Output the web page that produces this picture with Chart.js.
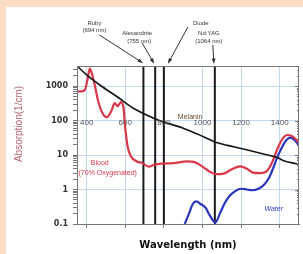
<!DOCTYPE html>
<html>
<head>
<meta charset="UTF-8">
<title>Absorption spectra</title>
<script src="https://cdn.jsdelivr.net/npm/chart.js"></script>
<style>
  html, body { margin: 0; padding: 0; background: #fcdcc3; }
  #wrap { position: absolute; left: 6px; top: 7px; width: 297px; height: 247px; background: #fff; }
</style>
</head>
<body>
<div id="wrap"><canvas id="absChart" width="297" height="247"></canvas></div>
<script>
// wavelengths (nm) and absorption (1/cm)
var bloodNm  = [350, 370, 390, 405, 416, 425, 440, 458, 480, 505, 530, 545, 560, 577, 590, 600, 612, 630, 660, 690, 720, 750, 790, 850, 920, 960, 1000, 1040, 1070, 1110, 1150, 1195, 1230, 1260, 1300, 1335, 1360, 1390, 1415, 1440, 1460, 1480, 1500];
var bloodAbs = [700, 700, 760, 1600, 3200, 2500, 1200, 400, 170, 125, 200, 320, 260, 340, 250, 60, 18, 9, 6.5, 5.8, 4.6, 5.2, 5.6, 5.8, 6.5, 6.2, 4.6, 3.2, 2.8, 2.9, 3.8, 4.7, 4.0, 3.1, 3.0, 3.5, 6, 16, 30, 38, 36, 30, 22];

var melNm  = [350, 400, 470, 560, 640, 745, 800, 900, 1000, 1064, 1130, 1200, 1270, 1337, 1390, 1421, 1460, 1500];
var melAbs = [3800, 2100, 1050, 480, 230, 118, 90, 60, 35, 24, 19, 15.5, 12.5, 10, 8.3, 6.8, 6, 5.4];

var waterNm  = [908, 930, 950, 968, 990, 1015, 1040, 1067, 1090, 1115, 1140, 1170, 1200, 1230, 1260, 1290, 1320, 1345, 1365, 1385, 1405, 1430, 1455, 1475, 1500];
var waterAbs = [0.1, 0.2, 0.38, 0.45, 0.38, 0.3, 0.17, 0.11, 0.2, 0.4, 0.65, 0.9, 1.05, 1.0, 0.95, 1.05, 1.4, 2.2, 4, 8, 14, 25, 32, 28, 19];

var laserNm   = [694, 755, 800, 1064];
var laserName = ['Ruby', 'Alexandrite', 'Diode', 'Nd:YAG'];
var laserSub  = ['(694 nm)', '(755 nm)', '', '(1064 nm)'];

var xTicks = [400, 600, 800, 1000, 1200, 1400];
var yMajor = [0.1, 1, 10, 100, 1000];
var yMin = 0.1, yMax = 3800;

function pts(xs, ys) {
    return xs.map(function (x, i) { return {x: x, y: ys[i]}; });
}
function isDecade(v) {
    var l = Math.log10(v);
    return Math.abs(l - Math.round(l)) < 1e-6;
}

var datasets = [
    {data: pts(melNm, melAbs), borderColor: '#151515', borderWidth: 1.6},
    {data: pts(bloodNm, bloodAbs), borderColor: '#d8384a', borderWidth: 2.2},
    {data: pts(waterNm, waterAbs), borderColor: '#2a35c0', borderWidth: 2.2}
];
datasets.forEach(function (d) { d.cubicInterpolationMode = 'monotone'; });
laserNm.forEach(function (nm) {
    datasets.push({data: [{x: nm, y: yMin}, {x: nm, y: yMax}], borderColor: '#1a1a1a', borderWidth: 2});
});

// label positions relative to each laser line / chart top (px)
var laserLbl = [
    {dx: -49, dy: -43, sdx: -49, sdy: -36, ax: -44, ay: -31, bx: -2, by: -4},
    {dx: -18, dy: -33, sdx: -16, sdy: -25, ax: -13, ay: -23, bx: -2, by: -4},
    {dx: 37,  dy: -43, sdx: 37,  sdy: -36, ax: 24,  ay: -39, bx: 5,  by: -4},
    {dx: -6,  dy: -33, sdx: -6,  sdy: -25, ax: -2,  ay: -21, bx: -1, by: -4}
];

var decor = {
    id: 'decor',
    afterDatasetsDraw: function (chart) {
        var ctx = chart.ctx, xs = chart.scales.x, ys = chart.scales.y, a = chart.chartArea;
        ctx.save();
        // frame
        ctx.strokeStyle = '#777';
        ctx.lineWidth = 1;
        ctx.strokeRect(a.left + 0.5, a.top + 0.5, a.right - a.left - 1, a.bottom - a.top);
        // right edge minor ticks
        ys.ticks.forEach(function (t) {
            var y = Math.round(ys.getPixelForValue(t.value)) + 0.5;
            ctx.beginPath();
            ctx.moveTo(a.right - (isDecade(t.value) ? 4 : 2), y);
            ctx.lineTo(a.right, y);
            ctx.stroke();
        });
        // x tick labels inside plot
        ctx.fillStyle = '#555';
        ctx.font = '8px "Liberation Sans", Arial, sans-serif';
        ctx.textAlign = 'center';
        ctx.textBaseline = 'middle';
        xTicks.forEach(function (v) {
            ctx.fillText(String(v), xs.getPixelForValue(v), ys.getPixelForValue(85));
        });
        // curve names
        ctx.font = '7px "Liberation Sans", Arial, sans-serif';
        ctx.fillStyle = '#6a4a30';
        ctx.fillText('Melanin', xs.getPixelForValue(936), ys.getPixelForValue(126));
        ctx.fillStyle = '#d8384a';
        ctx.fillText('Blood', xs.getPixelForValue(468), ys.getPixelForValue(5.9));
        ctx.fillText('(70% Oxygenated)', xs.getPixelForValue(509), ys.getPixelForValue(3.0));
        ctx.fillStyle = '#3344bb';
        ctx.font = 'italic 7px "Liberation Sans", Arial, sans-serif';
        ctx.fillText('Water', xs.getPixelForValue(1369), ys.getPixelForValue(0.27));
        // laser labels and arrows
        ctx.font = '6px "Liberation Sans", Arial, sans-serif';
        ctx.fillStyle = '#333';
        ctx.strokeStyle = '#333';
        laserNm.forEach(function (nm, i) {
            var lx = xs.getPixelForValue(nm), t = a.top, p = laserLbl[i];
            ctx.fillText(laserName[i], lx + p.dx, t + p.dy);
            if (laserSub[i]) ctx.fillText(laserSub[i], lx + p.sdx, t + p.sdy);
            var x0 = lx + p.ax, y0 = t + p.ay, x1 = lx + p.bx, y1 = t + p.by;
            ctx.beginPath();
            ctx.moveTo(x0, y0);
            ctx.lineTo(x1, y1);
            ctx.stroke();
            var ang = Math.atan2(y1 - y0, x1 - x0);
            ctx.beginPath();
            ctx.moveTo(x1 + Math.cos(ang) * 2, y1 + Math.sin(ang) * 2);
            ctx.lineTo(x1 - Math.cos(ang - 0.5) * 4, y1 - Math.sin(ang - 0.5) * 4);
            ctx.lineTo(x1 - Math.cos(ang + 0.5) * 4, y1 - Math.sin(ang + 0.5) * 4);
            ctx.closePath();
            ctx.fill();
        });
        ctx.restore();
    },
    afterDraw: function (chart) {
        var ctx = chart.ctx;
        ctx.save();
        ctx.translate(13, 117);
        ctx.rotate(-Math.PI / 2);
        ctx.fillStyle = '#b5676f';
        ctx.font = '10px "Liberation Sans", Arial, sans-serif';
        ctx.textAlign = 'center';
        ctx.textBaseline = 'middle';
        ctx.fillText('Absorption(1/cm)', 0, 0);
        ctx.restore();
    }
};

new Chart(document.getElementById('absChart'), {
    type: 'line',
    data: {datasets: datasets},
    plugins: [decor],
    options: {
        responsive: false,
        animation: false,
        layout: {padding: {top: 59, right: 4, bottom: 0, left: 0}},
        elements: {point: {radius: 0}, line: {tension: 0.4}},
        plugins: {legend: {display: false}, tooltip: {enabled: false}},
        scales: {
            x: {
                type: 'linear',
                min: 350,
                max: 1500,
                afterBuildTicks: function (s) { s.ticks = xTicks.map(function (v) { return {value: v}; }); },
                afterFit: function (s) { s.height = 30; },
                ticks: {display: false},
                grid: {color: '#c4d8ee', tickColor: '#777', tickLength: 4},
                border: {color: '#777'},
                title: {
                    display: true,
                    text: 'Wavelength (nm)',
                    color: '#111',
                    font: {family: '"DejaVu Sans", sans-serif', size: 10, weight: 'bold'},
                    padding: {top: 0, bottom: 3}
                }
            },
            y: {
                type: 'logarithmic',
                min: yMin,
                max: yMax,
                afterBuildTicks: function (s) {
                    var t = [];
                    yMajor.forEach(function (d) {
                        for (var m = 1; m <= 9; m++) {
                            if (m * d <= yMax) t.push({value: m * d});
                        }
                    });
                    s.ticks = t;
                },
                afterFit: function (s) { s.width = 71; },
                ticks: {
                    autoSkip: false,
                    padding: 5,
                    color: '#333',
                    font: {family: '"DejaVu Sans", sans-serif', size: 8, weight: 'bold'},
                    callback: function (v) { return isDecade(v) ? String(v) : ''; }
                },
                grid: {
                    color: function (c) {
                        return c.tick && isDecade(c.tick.value) && c.tick.value > yMin ? '#c4d8ee' : 'rgba(0,0,0,0)';
                    },
                    tickColor: '#777',
                    tickLength: 4
                },
                border: {color: '#777'}
            }
        }
    }
});
</script>
</body>
</html>
